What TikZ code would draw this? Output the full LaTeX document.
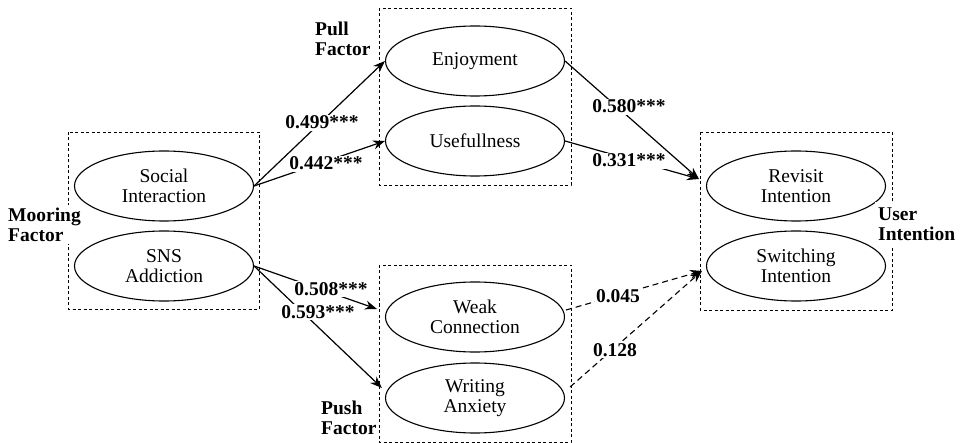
\documentclass[tikz,border=0pt]{standalone}
\usepackage{fontspec}
\setmainfont{Liberation Serif}
\usetikzlibrary{shapes.geometric,arrows.meta}
\begin{document}
\begin{tikzpicture}[x=1pt,y=-1pt,
  ell/.style={ellipse,draw,line width=1.1pt,minimum width=179pt,minimum height=70pt,inner sep=0pt,align=center,font=\fontsize{19.5}{20}\selectfont},
  grp/.style={draw,line width=0.9pt,dash pattern=on 3pt off 2.5pt},
  glabel/.style={anchor=north west,inner sep=0pt,align=left,font=\fontsize{19.5}{19.5}\selectfont\bfseries},
  coef/.style={anchor=base,fill=white,inner sep=1.5pt,font=\fontsize{19.5}{20}\selectfont\bfseries},
  arr/.style={line width=1.2pt,-{Stealth[length=12pt,width=9pt]}},
  darr/.style={line width=1.1pt,dash pattern=on 6pt off 4pt,-{Stealth[length=12pt,width=9pt]}}]
\useasboundingbox (0,0) rectangle (960,443);
% group boxes
\draw[grp] (68,132) rectangle (259,309);
\draw[grp] (379,8) rectangle (571,185);
\draw[grp] (379,265) rectangle (571,442);
\draw[grp] (700,132) rectangle (892,310);
% ellipses
\node[ell] (si) at (164,186) {Social\\Interaction};
\node[ell] (sns) at (164,266) {SNS\\Addiction};
\node[ell] (enj) at (475,61) {Enjoyment};
\node[ell] (use) at (475,141) {Usefullness};
\node[ell] (weak) at (475,317) {Weak\\Connection};
\node[ell] (writ) at (475,398) {Writing\\Anxiety};
\node[ell] (rev) at (796,186) {Revisit\\Intention};
\node[ell] (sw) at (796,266) {Switching\\Intention};
% group labels
\node[glabel,fill=white,inner sep=3pt] (moor) at (5,205) {Mooring\\Factor};
\node[glabel] (pull) at (315,22) {Pull\\Factor};
\node[glabel] (push) at (321,401) {Push\\Factor};
\node[glabel,fill=white,inner xsep=3pt,inner ysep=6pt] (user) at (875,202) {User\\Intention};
% connectors
\draw[arr] (si.east) -- (enj.west);
\draw[arr] (si.east) -- (use.west);
\draw[arr] (sns.east) -- ([shift={(-8,-8)}]weak.west);
\draw[arr] (sns.east) -- ([shift={(-3,-10)}]writ.west);
\draw[arr] (enj.east) -- ([shift={(-7,-7)}]rev.west);
\draw[arr] (use.east) -- ([shift={(-7,-7)}]rev.west);
\draw[darr] ([shift={(1,-7)}]weak.east) -- ([shift={(-4,5)}]sw.west);
\draw[darr] ([shift={(5,-11)}]writ.east) -- ([shift={(-4,5)}]sw.west);
% coefficients
\node[coef] (c1) at (322,129) {0.499***};
\node[coef] (c2) at (326,170) {0.442***};
\node[coef] (c3) at (331,295) {0.508***};
\node[coef] (c4) at (318,318) {0.593***};
\node[coef] (c5) at (629,113) {0.580***};
\node[coef] (c6) at (629,167) {0.331***};
\node[coef] (c7) at (618,302) {0.045};
\node[coef] (c8) at (615,356) {0.128};
\end{tikzpicture}
\end{document}
